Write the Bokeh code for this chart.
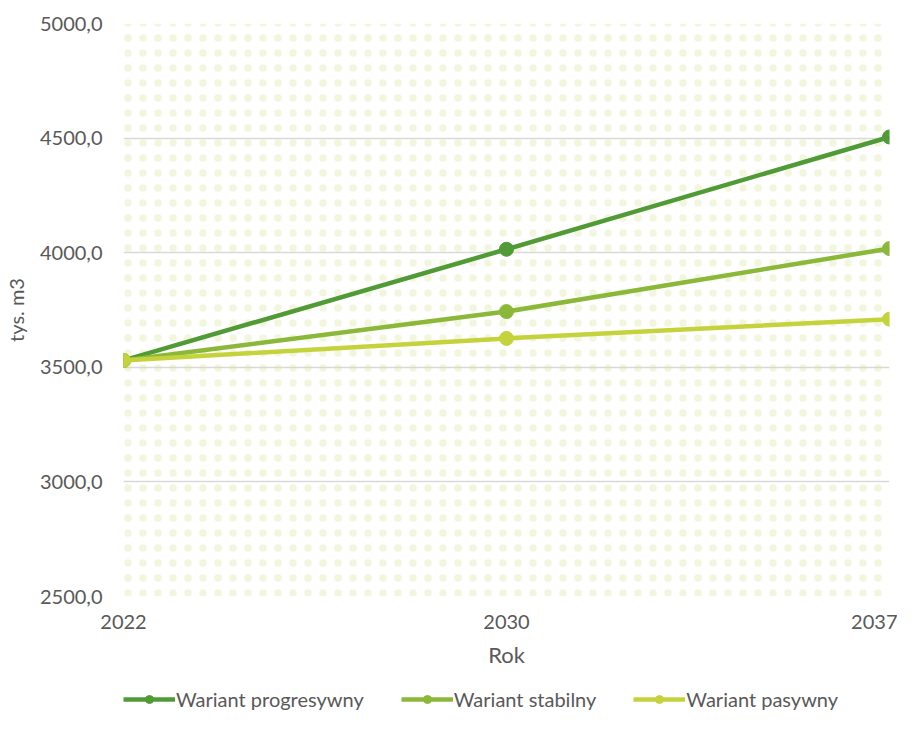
from bokeh.plotting import figure
from bokeh.layouts import column
from bokeh.models import (ColumnDataSource, FixedTicker, Legend, LegendItem,
                          BoxAnnotation, Range1d)
from bokeh.embed import file_html
from bokeh.resources import INLINE

years = ["2022", "2030", "2037"]
progresywny = [3530.0, 4015.0, 4505.0]
stabilny = [3530.0, 3743.0, 4018.0]
pasywny = [3530.0, 3626.0, 3710.0]
series_names = ["Wariant progresywny", "Wariant stabilny", "Wariant pasywny"]
colors = ["#519b36", "#8cb83a", "#c4d33c"]
y_ticks = [2500, 3000, 3500, 4000, 4500, 5000]

FONT = "Lato"
TXT = "#595959"

xs = list(range(len(years)))
series = [progresywny, stabilny, pasywny]

p = figure(width=897, height=682, output_backend="svg", toolbar_location=None,
           x_range=Range1d(0, len(years) - 1), y_range=Range1d(2500, 5000))
p.min_border_left = 117
p.min_border_right = 8
p.min_border_top = 23
p.min_border_bottom = 86
p.outline_line_color = None
p.background_fill_color = "white"
p.border_fill_color = "white"

bg = BoxAnnotation(fill_alpha=0, line_color=None, hatch_pattern="dot",
                   hatch_color="#cfe290", hatch_scale=15, hatch_weight=1.0,
                   hatch_alpha=0.3, level="underlay")
p.add_layout(bg)

p.xgrid.grid_line_color = None
p.ygrid.grid_line_color = "#d9d9d9"
p.ygrid.grid_line_width = 1.3
p.yaxis.ticker = FixedTicker(ticks=y_ticks)
p.yaxis.major_label_overrides = {t: f"{t:.1f}".replace(".", ",") for t in y_ticks}
p.xaxis.ticker = FixedTicker(ticks=xs)
p.xaxis.major_label_overrides = {i: y for i, y in enumerate(years)}

for ax in (p.xaxis[0], p.yaxis[0]):
    ax.axis_line_color = None
    ax.major_tick_line_color = None
    ax.minor_tick_line_color = None
    ax.major_tick_in = 0
    ax.major_tick_out = 0
    ax.minor_tick_in = 0
    ax.minor_tick_out = 0
    ax.major_label_text_font = FONT
    ax.major_label_text_font_size = "20px"
    ax.major_label_text_color = TXT
    ax.axis_label_text_font = FONT
    ax.axis_label_text_color = TXT
    ax.axis_label_text_font_style = "normal"

p.xaxis.axis_label = "Rok"
p.yaxis.axis_label = "tys. m3"
p.xaxis.axis_label_text_font_size = "22px"
p.yaxis.axis_label_text_font_size = "20px"
p.xaxis.major_label_standoff = 18
p.xaxis.axis_label_standoff = 9
p.yaxis.major_label_standoff = 21
p.yaxis.axis_label_standoff = 9

for vals, c in zip(series, colors):
    src = ColumnDataSource(dict(x=xs, y=vals))
    p.line("x", "y", source=src, line_color=c, line_width=4.5)
    p.scatter("x", "y", source=src, size=14, fill_color=c, line_color=c)

# separate strip holding the legend; its data lie outside its own ranges,
# so only the legend swatches are visible
lf = figure(width=897, height=35, output_backend="svg", toolbar_location=None,
            x_axis_type=None, y_axis_type=None,
            x_range=Range1d(0, 1), y_range=Range1d(0, 1))
lf.min_border_left = 0
lf.min_border_right = 0
lf.min_border_top = 0
lf.min_border_bottom = 0
lf.outline_line_color = None
lf.xgrid.visible = False
lf.ygrid.visible = False

items = []
for name, vals, c in zip(series_names, series, colors):
    es = ColumnDataSource(dict(x=xs, y=vals))
    l = lf.line("x", "y", source=es, line_color=c, line_width=4.5)
    s = lf.scatter("x", "y", source=es, size=14, fill_color=c, line_color=c)
    items.append(LegendItem(label=name, renderers=[l, s]))

legend = Legend(items=items, orientation="horizontal", location=(0, 6),
                label_text_font=FONT, label_text_font_size="20px",
                label_text_color=TXT, glyph_width=52, glyph_height=20,
                label_height=20, label_standoff=1, spacing=37,
                border_line_color=None, background_fill_alpha=0,
                margin=0, padding=0)
lf.add_layout(legend)

layout = column(p, lf, spacing=0)
open("out.html", "w").write(file_html(layout, INLINE))
